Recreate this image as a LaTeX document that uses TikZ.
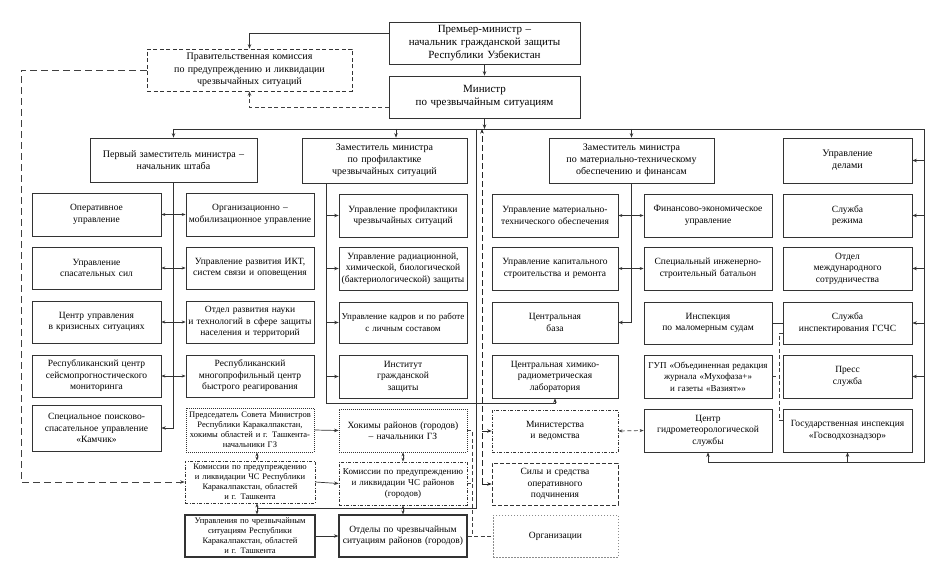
\documentclass[tikz,border=0pt]{standalone}
\usepackage{fontspec}
\setmainfont{Liberation Serif}
\usetikzlibrary{arrows.meta}
\newcommand\mybox[7]{%
 \pgfmathsetmacro\mbW{#5-#3}\pgfmathsetmacro\mbH{#6-#4}\pgfmathsetmacro\mbT{#5-#3-2}%
 \pgfmathsetmacro\mbX{(#3+#5)/2}\pgfmathsetmacro\mbY{(#4+#6)/2}%
 \node[#1, minimum width=\mbW pt, minimum height=\mbH pt, text width=\mbT pt] (#2) at (\mbX,\mbY) {#7};}
\begin{document}
\begin{tikzpicture}[x=1pt,y=-1pt,
  ln/.style={draw=black!80, line width=0.7pt},
  arr/.style={-{Stealth[length=4.5pt,width=3.5pt]}},
  darr/.style={{Stealth[length=4pt,width=3pt]}-{Stealth[length=4pt,width=3pt]}},
  dsh/.style={draw=black!75, line width=0.7pt, dash pattern=on 4pt off 2.5pt},
  ldsh/.style={draw=black!75, line width=0.9pt, dash pattern=on 7pt off 4pt},
  tdsh/.style={draw=black!85, line width=1pt, dash pattern=on 6pt off 3pt},
  bx/.style={ln, fill=white, inner sep=0pt, align=center, font=\fontsize{9.5}{11.5}\selectfont},
  bxn/.style={bx, font=\fontsize{9}{11.5}\selectfont},
  bxm/.style={bx, font=\fontsize{10}{12}\selectfont},
  bxl/.style={bx, font=\fontsize{11}{13}\selectfont},
  bxs/.style={bx, font=\fontsize{8.5}{10}\selectfont},
  govbox/.style={bx, font=\fontsize{10}{12.5}\selectfont, dash pattern=on 4pt off 2.5pt},
  dotbox/.style={bxs, dash pattern=on 1pt off 1pt},
  ddbox/.style={bxs, dash pattern=on 3pt off 1.5pt on 1pt off 1.5pt},
  dbox/.style={bx, dash pattern=on 3pt off 1.5pt on 1pt off 1.5pt},
  fbox/.style={bx, dash pattern=on 4pt off 2pt},
  obox/.style={bx, draw=black!45, dash pattern=on 1.5pt off 1.5pt},
  thk/.style={bxs, line width=1.2pt}
]
\fill[white] (0,0) rectangle (942,575);
\useasboundingbox (0,0) rectangle (942,575);

% top
\mybox{bxl}{pm}{389}{22}{580}{64}{Премьер-министр –\\начальник гражданской защиты\\Республики Узбекистан}
\mybox{bxl}{mn}{389}{76}{580}{118}{Министр\\по чрезвычайным ситуациям}
\mybox{govbox}{gov}{147}{49}{352}{91}{Правительственная комиссия\\по предупреждению и ликвидации\\чрезвычайных ситуаций}

% deputies
\mybox{bxm}{dep1}{90}{138}{257}{182}{Первый заместитель министра –\\начальник штаба}
\mybox{bxm}{dep2}{302}{138}{467}{183}{Заместитель министра\\по профилактике\\чрезвычайных ситуаций}
\mybox{bxm}{dep3}{549}{138}{714}{183}{Заместитель министра\\по материально-техническому\\обеспечению и финансам}
\mybox{bxm}{f1}{783}{138}{912}{183}{Управление\\делами}

% column A
\mybox{bx}{a1}{32}{193}{161}{236}{Оперативное\\управление}
\mybox{bx}{a2}{32}{247}{161}{289}{Управление\\спасательных сил}
\mybox{bx}{a3}{32}{301}{161}{343}{Центр управления\\в кризисных ситуациях}
\mybox{bx}{a4}{32}{355}{161}{397}{Республиканский центр\\сейсмопрогностического\\мониторинга}
\mybox{bx}{a5}{32}{405}{161}{451}{Специальное поисково-\\спасательное управление\\«Камчик»}

% column B
\mybox{bx}{b1}{186}{193}{314}{236}{Организационно –\\мобилизационное управление}
\mybox{bx}{b2}{186}{247}{314}{289}{Управление развития ИКТ,\\систем связи и оповещения}
\mybox{bx}{b3}{186}{301}{314}{343}{Отдел развития науки\\и технологий в сфере защиты\\населения и территорий}
\mybox{bx}{b4}{186}{355}{314}{397}{Республиканский\\многопрофильный центр\\быстрого реагирования}
\mybox{dotbox}{pred}{186}{408}{314}{452}{Председатель Совета Министров\\Республики Каракалпакстан,\\хокимы областей и г. Ташкента-\\начальники ГЗ}
\mybox{ddbox}{komrep}{185}{461}{315}{503}{Комиссии по предупреждению\\и ликвидации ЧС Республики\\Каракалпакстан, областей\\и г. Ташкента}
\mybox{thk}{upr}{185}{515}{315}{557}{Управления по чрезвычайным\\ситуациям Республики\\Каракалпакстан, областей\\и г. Ташкента}

% column C
\mybox{bx}{c1}{339}{194}{467}{237}{Управление профилактики\\чрезвычайных ситуаций}
\mybox{bx}{c2}{339}{247}{467}{290}{Управление радиационной,\\химической, биологической\\(бактериологической) защиты}
\mybox{bxn}{c3}{339}{302}{467}{343}{Управление кадров и по работе\\с личным составом}
\mybox{bx}{c4}{339}{355}{467}{398}{Институт\\гражданской\\защиты}
\mybox{dotbox,font=\fontsize{9.5}{11.5}\selectfont}{khr}{339}{409}{467}{452}{Хокимы районов (городов)\\– начальники ГЗ}
\mybox{ddbox,font=\fontsize{9}{11}\selectfont}{komr}{339}{462}{467}{505}{Комиссии по предупреждению\\и ликвидации ЧС районов\\(городов)}
\mybox{thk,font=\fontsize{9.5}{11.5}\selectfont}{otd}{339}{515}{467}{557}{Отделы по чрезвычайным\\ситуациям районов (городов)}

% column D
\mybox{bx}{dd1}{492}{194}{618}{237}{Управление материально-\\технического обеспечения}
\mybox{bx}{dd2}{492}{247}{618}{290}{Управление капитального\\строительства и ремонта}
\mybox{bx}{dd3}{492}{302}{618}{343}{Центральная\\база}
\mybox{bx}{dd4}{492}{355}{618}{398}{Центральная химико-\\радиометрическая\\лаборатория}
\mybox{dbox}{mi}{492}{410}{618}{452}{Министерства\\и ведомства}
\mybox{fbox}{fo}{492}{463}{618}{505}{Силы и средства\\оперативного\\подчинения}
\mybox{obox}{org}{493}{515}{618}{557}{Организации}

% column E
\mybox{bx}{e1}{644}{194}{772}{237}{Финансово-экономическое\\управление}
\mybox{bx}{e2}{644}{247}{772}{290}{Специальный инженерно-\\строительный батальон}
\mybox{bx}{e3}{644}{302}{772}{344}{Инспекция\\по маломерным судам}
\mybox{bxn}{e4}{644}{355}{772}{398}{ГУП «Объединенная редакция\\журнала «Мухофаза+»\\и газеты «Вазият»»}
\mybox{bx}{e5}{644}{409}{772}{452}{Центр\\гидрометеорологической\\службы}

% column F
\mybox{bx}{f2}{783}{194}{912}{237}{Служба\\режима}
\mybox{bx}{f3}{783}{247}{912}{290}{Отдел\\международного\\сотрудничества}
\mybox{bx}{f4}{783}{302}{912}{344}{Служба\\инспектирования ГСЧС}
\mybox{bx}{f5}{783}{355}{912}{398}{Пресс\\служба}
\mybox{bx}{f6}{783}{409}{912}{452}{Государственная инспекция\\«Госводхознадзор»}

% coordinates
\coordinate (busL) at (173.5,129);
\coordinate (busR) at (924,129);
\coordinate (busRB) at (924,462);
\coordinate (gl) at (21,70);
\coordinate (cc) at (326,403);
\coordinate (s1) at (476,129);
\coordinate (s2) at (476,508.5);
\coordinate (s3) at (257,508.5);
\coordinate (t1) at (482,129);
\coordinate (t2) at (482,484);
\coordinate (m1) at (472,430.5);
\coordinate (m2) at (472,536);
\coordinate (k1) at (779,333);
\coordinate (k2) at (779,420.5);

% top connectors
\draw[ln,arr] (pm.south) -- (mn.north);
\draw[ln,arr] (mn.south) -- (mn.south |- busL);
\draw[ln,arr] ([yshift=10pt]pm.west) -| (gov.north);
\draw[dsh,arr] ([yshift=-10pt]mn.west) -| (gov.south);
\draw[ldsh,arr] (gov.west) -- (gl) |- (komrep.west);

% bus
\draw[ln,arr] (busL) -- (busR) -- (busRB) -| (e5.south);
\draw[ln,arr] (f6.south |- busRB) -- (f6.south);
\draw[ln,arr] (busL) -- (dep1.north);
\draw[ln,arr] ([xshift=11.5pt]dep2.north |- busL) -- ([xshift=11.5pt]dep2.north);
\draw[ln,arr] (dep3.north |- busL) -- (dep3.north);
\foreach \i in {1,...,5} \draw[ln,arr] (f\i.east -| busR) -- (f\i.east);

% first deputy
\draw[ln,arr] (dep1.south) |- (a5.east);
\foreach \i in {1,...,4} \draw[ln,darr] (a\i.east) -- (b\i.west);

% second deputy
\draw[ln,arr] (dep2.south -| cc) -- (cc) -| (dd4.south);
\foreach \i in {1,...,4} \draw[ln,arr] (c\i.west -| cc) -- (c\i.west);

% third deputy
\draw[ln,arr] (dep3.south) |- (dd3.east);
\foreach \i in {1,2} \draw[ln,darr] (dd\i.east) -- (e\i.west);
\draw[ln] (e3.east) -- (f4.west);
\draw[dsh] ([yshift=-10pt]f4.west) -- (k1) -- (k2) -- ([yshift=10pt]f6.west);
\draw[dsh] (e4.east) -- (e4.east -| k1);
\draw[dsh,darr] (mi.east) -- (e5.west);

% solid line to regional bodies
\draw[ln] (s1) -- (s2) -- (s3);
\draw[ln,darr] ([xshift=7pt]pred.south) -- ([xshift=7pt]komrep.north);
\draw[ln,darr] ([xshift=7pt]komrep.south) -- ([xshift=7pt]upr.north);
\draw[ln,darr] (khr.south) -- (komr.north);
\draw[ln,darr] (komr.south) -- (otd.north);
\draw[ln,arr] (pred.east) -- (khr.west);
\draw[ln,arr] (komrep.east) -- (komr.west);
\draw[ln,arr] (upr.east) -- (otd.west);

% dashed line to ministries and forces
\draw[tdsh,arr] (t2) -- (t1);
\draw[tdsh,arr] (mi.west -| t1) -- (mi.west);
\draw[tdsh,arr] (fo.west -| t1) -- (fo.west);

% dashed to organizations
\draw[dsh] (khr.east) -- (m1) -- (m2);
\draw[dsh] (komr.east) -- (komr.east -| m1);
\draw[dsh] (otd.east) -- (org.west);
\end{tikzpicture}
\end{document}
